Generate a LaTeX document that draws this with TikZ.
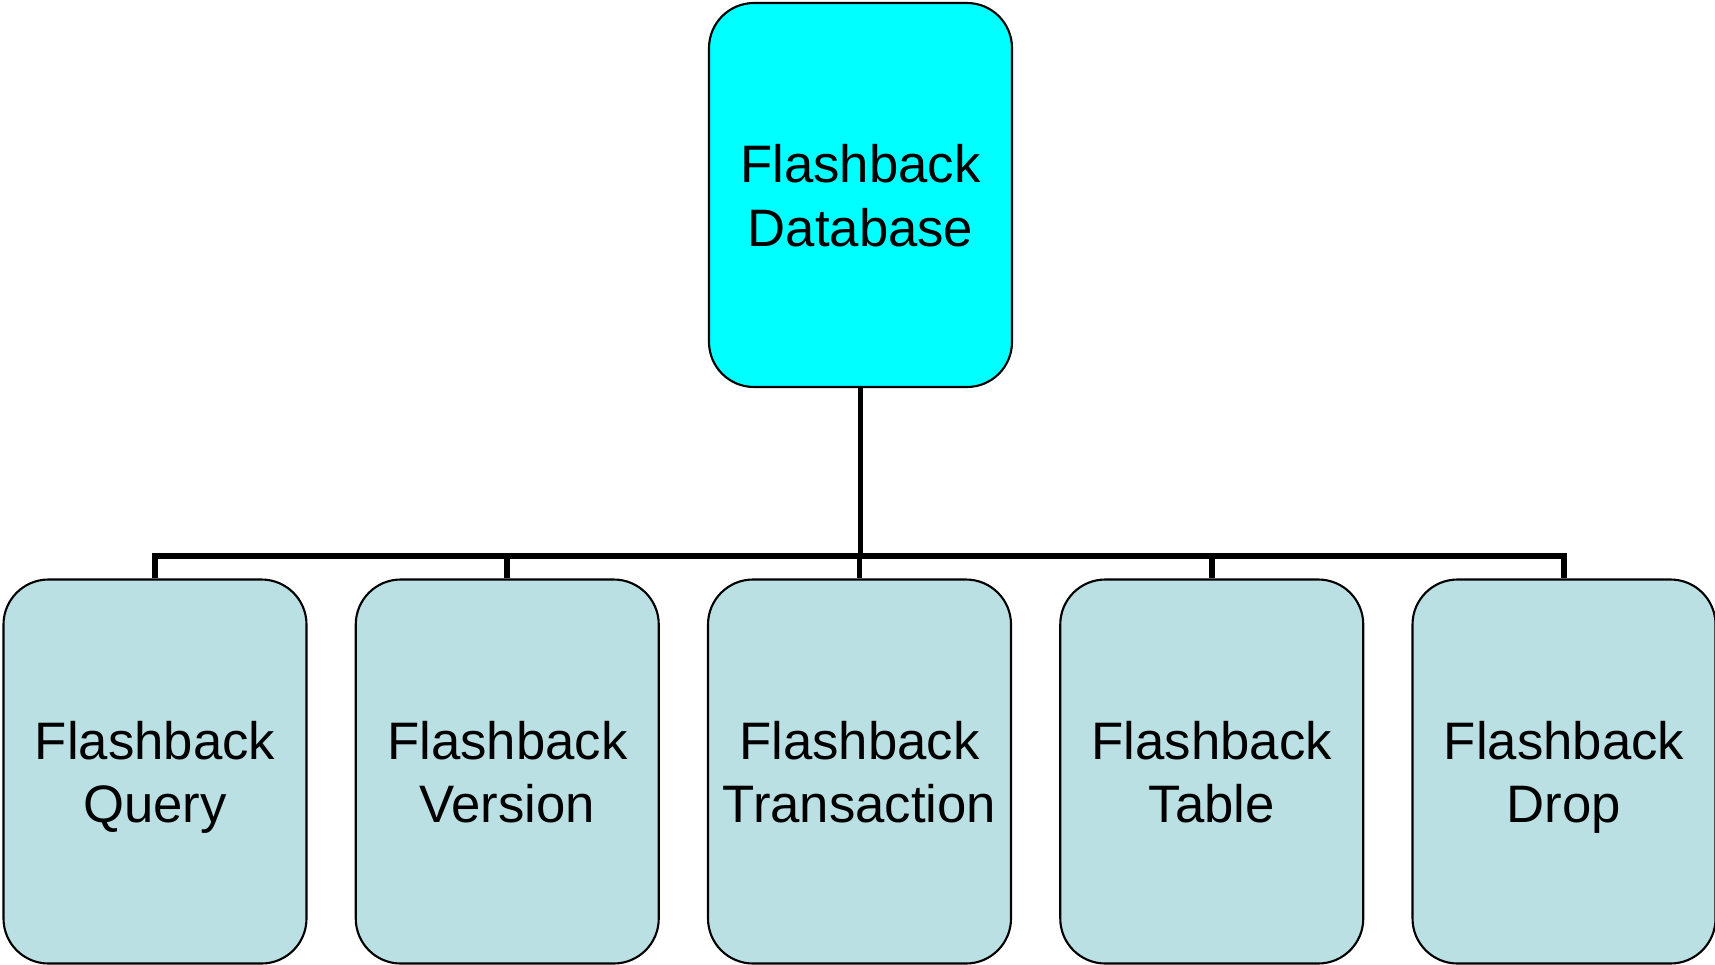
\documentclass[tikz,border=0pt]{standalone}
\usepackage{fontspec}
\setmainfont{Liberation Sans}
\usepackage{xcolor}
\usetikzlibrary{calc}
\definecolor{topfill}{HTML}{00FFFF}
\definecolor{leaffill}{HTML}{BBE0E3}
\tikzset{box/.style={draw=black,line width=0.6pt,rounded corners=0.45cm,minimum width=3.03cm,minimum height=3.84cm,inner sep=0pt,text width=3cm,align=center,font=\fontsize{15}{18}\selectfont,execute at begin node={\rule{0pt}{16.5pt}},execute at end node={\strut}}}
\tikzset{link/.style={line width=1.6pt}}

\begin{document}
\begin{tikzpicture}
  \useasboundingbox (0,0) rectangle (17.15,-9.64);

  % Nodes
  \node[box,fill=topfill] (db) at (8.605,-1.95) {Flashback\\Database};
  \foreach \name/\lbl [count=\i from 0] in {query/Query,version/Version,trans/Transaction,table/Table,drop/Drop}
    \node[box,fill=leaffill] (\name) at (1.55+3.5225*\i,-7.715) {Flashback\\\lbl};
  \coordinate (split) at ($(db.south)+(0,-1.68)$);

  % Lines
  \foreach \name in {query,version,trans,table,drop}
    \draw[link] (db.south) -- (split) -| (\name.north);
\end{tikzpicture}
\end{document}
